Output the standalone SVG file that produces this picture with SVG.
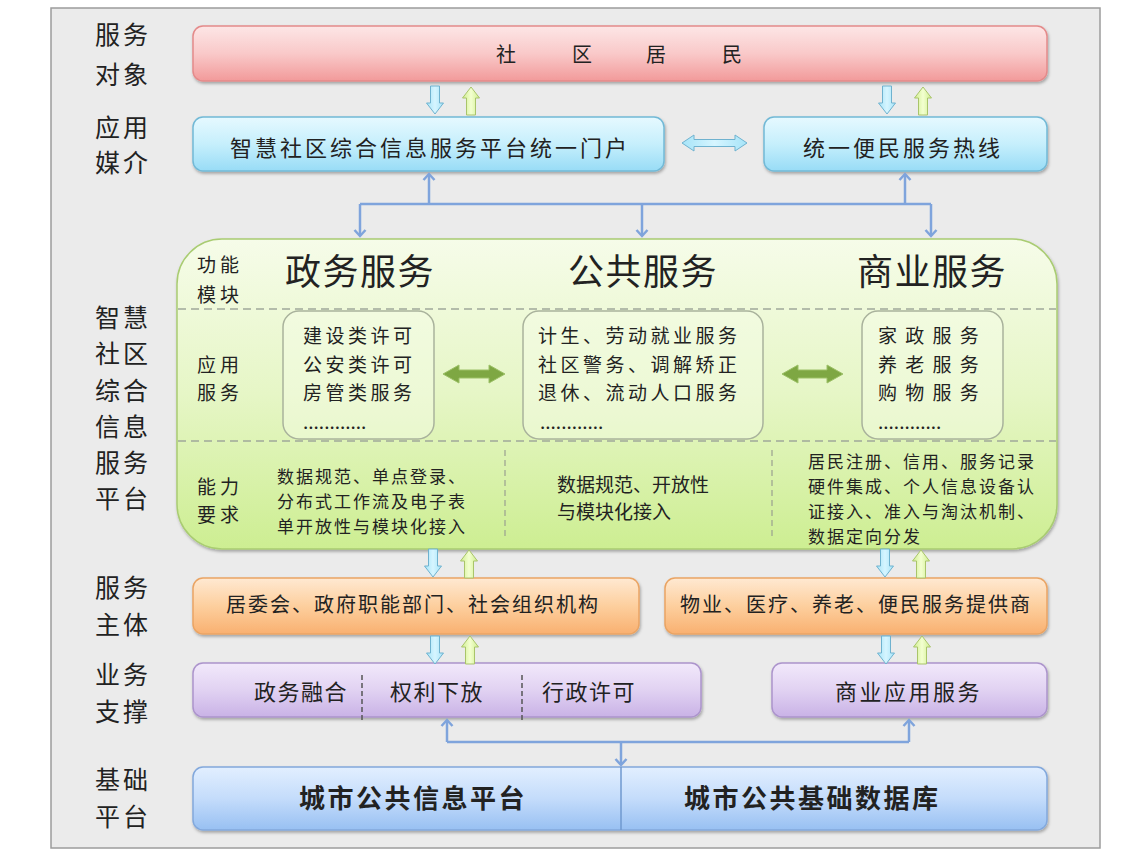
<svg xmlns="http://www.w3.org/2000/svg" xmlns:xlink="http://www.w3.org/1999/xlink" width="1140" height="856" viewBox="0 0 1140 856">
<style>
text{font-family:"Noto Sans CJK SC","Noto Sans",sans-serif;fill:#222}
.lbl{font-size:25px;letter-spacing:3px}
.sub{font-size:19px;letter-spacing:4px}
.head{font-size:36px;letter-spacing:1.5px}
.inner{font-size:19px;letter-spacing:3.5px}
.cap{font-size:19px}
.cap2{font-size:17px;letter-spacing:2px}
.conn{fill:none;stroke:#7fa4dc;stroke-width:2.5}
.box{filter:url(#sh);stroke-width:1.5}
.dash{stroke:#a0a89a;stroke-width:1.5;stroke-dasharray:8 5;fill:none}
.vdash{stroke:#9aa090;stroke-width:1.2;stroke-dasharray:6 4;fill:none}
</style>
<defs>
<filter id="sh" x="-5%" y="-10%" width="110%" height="130%">
<feDropShadow dx="1" dy="2" stdDeviation="1.5" flood-color="#000" flood-opacity="0.3"/>
</filter>
<linearGradient id="gPink" x1="0" y1="0" x2="0" y2="1"><stop offset="0" stop-color="#fde6e6"/><stop offset="0.5" stop-color="#f9c9c9"/><stop offset="1" stop-color="#f29a9a"/></linearGradient>
<linearGradient id="gCyan" x1="0" y1="0" x2="0" y2="1"><stop offset="0" stop-color="#e6f9ff"/><stop offset="0.5" stop-color="#c6effc"/><stop offset="1" stop-color="#98dcf6"/></linearGradient>
<linearGradient id="gGreen" x1="0" y1="0" x2="0" y2="1"><stop offset="0" stop-color="#f6fce9"/><stop offset="0.5" stop-color="#e6f6c6"/><stop offset="1" stop-color="#cdee92"/></linearGradient>
<linearGradient id="gOrange" x1="0" y1="0" x2="0" y2="1"><stop offset="0" stop-color="#ffe9d2"/><stop offset="0.5" stop-color="#fdcf9e"/><stop offset="1" stop-color="#f9b070"/></linearGradient>
<linearGradient id="gPurple" x1="0" y1="0" x2="0" y2="1"><stop offset="0" stop-color="#f2e9fb"/><stop offset="0.5" stop-color="#e1d2f2"/><stop offset="1" stop-color="#c9b2e6"/></linearGradient>
<linearGradient id="gBlue" x1="0" y1="0" x2="0" y2="1"><stop offset="0" stop-color="#e2efff"/><stop offset="0.5" stop-color="#c4dcfb"/><stop offset="1" stop-color="#98c0f2"/></linearGradient>
<linearGradient id="gAB" x1="0" y1="0" x2="1" y2="0"><stop offset="0" stop-color="#a6e4f8"/><stop offset="0.5" stop-color="#d6f5ff"/><stop offset="1" stop-color="#a6e4f8"/></linearGradient>
<linearGradient id="gAG" x1="0" y1="0" x2="1" y2="0"><stop offset="0" stop-color="#cfee8e"/><stop offset="0.5" stop-color="#f3ffd0"/><stop offset="1" stop-color="#cfee8e"/></linearGradient>
<path id="dn" d="M-4.5,0 H4.5 V17 H8.5 L0,28 L-8.5,17 H-4.5 Z" fill="url(#gAB)" stroke="#6fb2cf" stroke-width="1"/>
<path id="up" d="M-4.5,28 H4.5 V11 H8.5 L0,0 L-8.5,11 H-4.5 Z" fill="url(#gAG)" stroke="#a9c46a" stroke-width="1"/>
<marker id="ah" markerUnits="userSpaceOnUse" markerWidth="14" markerHeight="14" refX="7" refY="7" orient="auto">
<path d="M1,1.5 L7,7 L1,12.5" fill="none" stroke="#7fa4dc" stroke-width="2.5"/>
</marker>
</defs>

<rect x="0" y="0" width="1140" height="856" fill="#ffffff"/>
<rect x="51" y="8" width="1049" height="840" fill="#ebebeb" stroke="#9c9c9c" stroke-width="1.5"/>

<g id="row-labels">
<text class="lbl" x="95" y="44">服务</text>
<text class="lbl" x="95" y="84">对象</text>
<text class="lbl" x="95" y="137">应用</text>
<text class="lbl" x="95" y="172">媒介</text>
<text class="lbl" x="95" y="327">智慧</text>
<text class="lbl" x="95" y="363">社区</text>
<text class="lbl" x="95" y="400">综合</text>
<text class="lbl" x="95" y="436">信息</text>
<text class="lbl" x="95" y="472">服务</text>
<text class="lbl" x="95" y="508">平台</text>
<text class="lbl" x="95" y="597">服务</text>
<text class="lbl" x="95" y="634">主体</text>
<text class="lbl" x="95" y="684">业务</text>
<text class="lbl" x="95" y="721">支撑</text>
<text class="lbl" x="95" y="789">基础</text>
<text class="lbl" x="95" y="826">平台</text>
</g>

<g id="residents">
<rect class="box" x="193" y="26" width="854" height="55" rx="10" fill="url(#gPink)" stroke="#e48a8a"/>
<text font-size="20"><tspan x="496" y="62">社</tspan><tspan x="572" y="62">区</tspan><tspan x="646" y="62">居</tspan><tspan x="722" y="62">民</tspan></text>
</g>

<g id="portal">
<rect class="box" x="193" y="117" width="471" height="54" rx="10" fill="url(#gCyan)" stroke="#72b9d6"/>
<text x="230" y="156" font-size="22" letter-spacing="3">智慧社区综合信息服务平台统一门户</text>
</g>

<g id="hotline">
<rect class="box" x="764" y="117" width="283" height="54" rx="10" fill="url(#gCyan)" stroke="#72b9d6"/>
<text x="803" y="156" font-size="22" letter-spacing="3">统一便民服务热线</text>
</g>

<g id="platform">
<rect class="box" x="177" y="239" width="880" height="310" rx="45" fill="url(#gGreen)" stroke="#a9cc72"/>
<line class="dash" x1="178" y1="309" x2="1056" y2="309"/>
<line class="dash" x1="178" y1="441" x2="1056" y2="441"/>
<line class="vdash" x1="505" y1="450" x2="505" y2="538"/>
<line class="vdash" x1="772" y1="450" x2="772" y2="538"/>
<text class="sub" x="197" y="272">功能</text>
<text class="sub" x="197" y="302">模块</text>
<text class="sub" x="197" y="372">应用</text>
<text class="sub" x="197" y="400">服务</text>
<text class="sub" x="197" y="494">能力</text>
<text class="sub" x="197" y="522">要求</text>
<text class="head" x="285" y="285">政务服务</text>
<text class="head" x="568" y="285">公共服务</text>
<text class="head" x="857" y="285">商业服务</text>

<g id="gov-apps">
<rect x="283" y="311" width="151" height="128" rx="16" fill="#f6fce9" fill-opacity="0.45" stroke="#a9b29c" stroke-width="1.5"/>
<text class="inner" x="303" y="343">建设类许可</text>
<text class="inner" x="303" y="372">公安类许可</text>
<text class="inner" x="303" y="400">房管类服务</text>
<text class="cap" x="303" y="429">............</text>
</g>
<g id="public-apps">
<rect x="523" y="311" width="240" height="128" rx="16" fill="#f6fce9" fill-opacity="0.45" stroke="#a9b29c" stroke-width="1.5"/>
<text class="inner" x="538" y="343">计生、劳动就业服务</text>
<text class="inner" x="538" y="372">社区警务、调解矫正</text>
<text class="inner" x="538" y="400">退休、流动人口服务</text>
<text class="cap" x="540" y="429">............</text>
</g>
<g id="biz-apps">
<rect x="862" y="311" width="141" height="128" rx="16" fill="#f6fce9" fill-opacity="0.45" stroke="#a9b29c" stroke-width="1.5"/>
<text class="inner" x="878" y="343" style="letter-spacing:2px">家 政 服 务</text>
<text class="inner" x="878" y="372" style="letter-spacing:2px">养 老 服 务</text>
<text class="inner" x="878" y="400" style="letter-spacing:2px">购 物 服 务</text>
<text class="cap" x="878" y="429">............</text>
</g>
<path d="M443,374 L459,365 V370 H489 V365 L505,374 L489,383 V378 H459 V383 Z" fill="#7ea743" stroke="#9cc066" stroke-width="1"/>
<path d="M782,374 L798,365 V370 H827 V365 L843,374 L827,383 V378 H798 V383 Z" fill="#7ea743" stroke="#9cc066" stroke-width="1"/>

<text class="cap2" x="277" y="483">数据规范、单点登录、</text>
<text class="cap2" x="277" y="508">分布式工作流及电子表</text>
<text class="cap2" x="277" y="533">单开放性与模块化接入</text>
<text class="cap" x="557" y="492">数据规范、开放性</text>
<text class="cap" x="557" y="519">与模块化接入</text>
<text class="cap2" x="808" y="468">居民注册、信用、服务记录</text>
<text class="cap2" x="808" y="493">硬件集成、个人信息设备认</text>
<text class="cap2" x="808" y="518">证接入、准入与淘汰机制、</text>
<text class="cap2" x="808" y="543">数据定向分发</text>
</g>

<g id="gov-actors">
<rect class="box" x="193" y="578" width="446" height="56" rx="10" fill="url(#gOrange)" stroke="#eaa464"/>
<text x="226" y="612" font-size="20" letter-spacing="2">居委会、政府职能部门、社会组织机构</text>
</g>
<g id="biz-actors">
<rect class="box" x="665" y="578" width="382" height="56" rx="10" fill="url(#gOrange)" stroke="#eaa464"/>
<text x="680" y="612" font-size="20" letter-spacing="2">物业、医疗、养老、便民服务提供商</text>
</g>

<g id="gov-support">
<rect class="box" x="193" y="663" width="508" height="54" rx="10" fill="url(#gPurple)" stroke="#ac94cc"/>
<line x1="362" y1="675" x2="362" y2="720" stroke="#555" stroke-width="1.5" stroke-dasharray="5 3"/>
<line x1="522" y1="675" x2="522" y2="720" stroke="#555" stroke-width="1.5" stroke-dasharray="5 3"/>
<text x="254" y="700" font-size="22" letter-spacing="1.5">政务融合</text>
<text x="390" y="700" font-size="22" letter-spacing="1.5">权利下放</text>
<text x="542" y="700" font-size="22" letter-spacing="1.5">行政许可</text>
</g>
<g id="biz-support">
<rect class="box" x="772" y="663" width="275" height="54" rx="10" fill="url(#gPurple)" stroke="#ac94cc"/>
<text x="835" y="700" font-size="22" letter-spacing="2.5">商业应用服务</text>
</g>

<g id="base">
<rect class="box" x="193" y="767" width="854" height="63" rx="10" fill="url(#gBlue)" stroke="#82a8dc"/>
<line x1="621" y1="767" x2="621" y2="830" stroke="#6f98cf" stroke-width="1.5"/>
<text x="299" y="808" font-size="26" font-weight="bold" letter-spacing="2.5">城市公共信息平台</text>
<text x="684" y="808" font-size="26" font-weight="bold" letter-spacing="2.5">城市公共基础数据库</text>
</g>

<g id="connectors">
<use href="#dn" x="435" y="86"/>
<use href="#up" x="471" y="87"/>
<use href="#dn" x="887" y="86"/>
<use href="#up" x="923" y="87"/>
<path d="M682,143 L694,135 V139.5 H735 V135 L747,143 L735,151 V146.5 H694 V151 Z" fill="url(#gAB)" stroke="#6fb2cf" stroke-width="1"/>
<path class="conn" d="M360,204 H931"/>
<path class="conn" d="M360,204 V236" marker-end="url(#ah)"/>
<path class="conn" d="M429,204 V174" marker-end="url(#ah)"/>
<path class="conn" d="M642,204 V236" marker-end="url(#ah)"/>
<path class="conn" d="M905,204 V174" marker-end="url(#ah)"/>
<path class="conn" d="M931,204 V236" marker-end="url(#ah)"/>
<use href="#dn" x="433" y="549"/>
<use href="#up" x="469" y="550"/>
<use href="#dn" x="885" y="549"/>
<use href="#up" x="921" y="550"/>
<use href="#dn" x="435" y="636"/>
<use href="#up" x="470" y="636"/>
<use href="#dn" x="886" y="636"/>
<use href="#up" x="922" y="636"/>
<path class="conn" d="M447,742 H909"/>
<path class="conn" d="M447,742 V720" marker-end="url(#ah)"/>
<path class="conn" d="M909,742 V720" marker-end="url(#ah)"/>
<path class="conn" d="M621,742 V765" marker-end="url(#ah)"/>
</g>
</svg>
